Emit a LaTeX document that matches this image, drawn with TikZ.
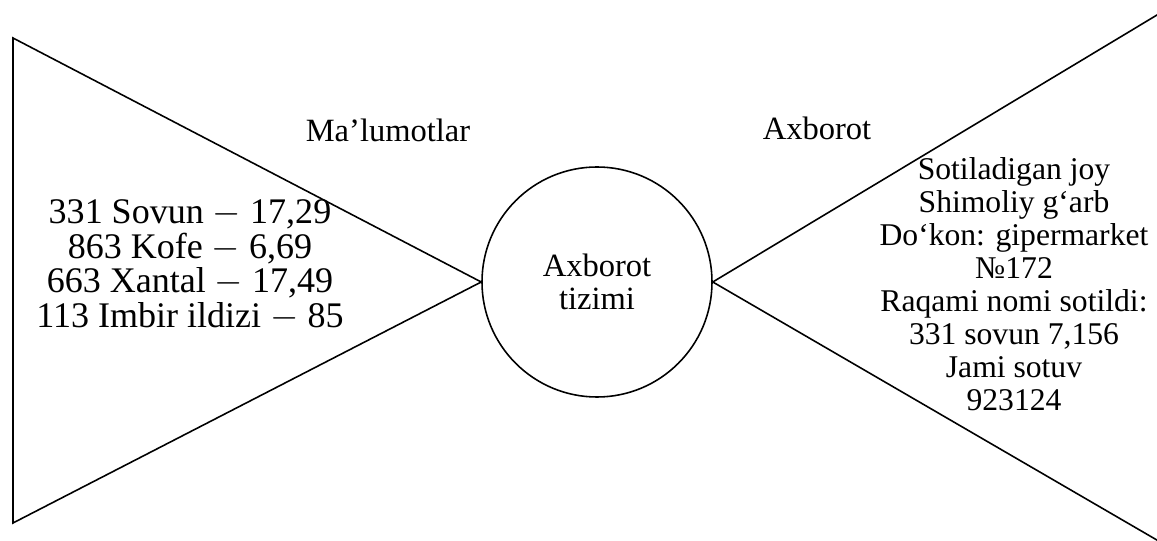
\documentclass[tikz,border=0pt]{standalone}
\usepackage{fontspec}
\setmainfont{Liberation Serif}
\usetikzlibrary{positioning, calc}

\tikzset{
  lbl/.style={font=\fontsize{18.5}{18.7}\selectfont},
  lst/.style={font=\fontsize{18.5}{18.7}\selectfont, align=center, inner sep=0pt},
  lstbig/.style={font=\fontsize{20.5}{19.6}\selectfont, align=center, inner sep=0pt},
  lstsmall/.style={font=\fontsize{18}{18.8}\selectfont, align=center, inner sep=0pt},
}

\begin{document}
\begin{tikzpicture}[x=0.2mm,y=-0.2mm,line width=0.9pt]
    \useasboundingbox (0,0) rectangle (1157,541);
    % Sistema
    \node[draw,circle,minimum size=46mm,inner sep=0pt,lst] (sys) at (597,282) {Axborot\\tizimi};
    % Triangolo sinistro
    \coordinate (lt) at (13,38);
    \coordinate (lb) at (13,523);
    \draw (lt) -- (sys.west) -- (lb) -- cycle;
    % Triangolo destro
    \coordinate (rt) at (1162,12);
    \coordinate (rb) at (1162,543);
    \draw (rt) -- (sys.east) -- (rb);
    % Etichette
    \node[lbl] (mal) at (388,130) {Ma’lumotlar};
    \node[lbl] (axb) at (817,128) {Axborot};
    \node[lstbig] (inp) at (190,265) {331 Sovun $-$ 17,29\\863 Kofe $-$ 6,69\\663 Xantal $-$ 17,49\\113 Imbir ildizi $-$ 85};
    \node[lstsmall] (out) at (1014,284) {Sotiladigan joy\\Shimoliy g‘arb\\Do‘kon: gipermarket\\№172\\Raqami nomi sotildi:\\331 sovun 7,156\\Jami sotuv\\923124};
\end{tikzpicture}
\end{document}
